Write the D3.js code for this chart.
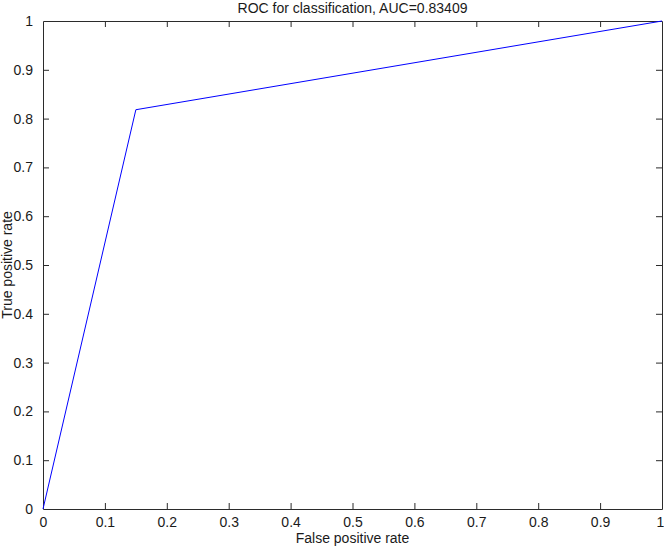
<!DOCTYPE html>
<html>
<head>
  <meta charset="utf-8">
  <script src="https://cdn.jsdelivr.net/npm/d3@7"></script>
  <style>
    body { margin: 0; background: #fff; }
    text { font-family: "Liberation Sans", Arial, sans-serif; fill: #1a1a1a; }
  </style>
</head>
<body>
  <svg id="chart" width="664" height="547"></svg>
  <script>
    // ROC curve points
    var fpr = [0, 0.15, 1];
    var tpr = [0, 0.81818, 1];
    var tickVals = [0, 0.1, 0.2, 0.3, 0.4, 0.5, 0.6, 0.7, 0.8, 0.9, 1];
    var tickLabels = ['0', '0.1', '0.2', '0.3', '0.4', '0.5', '0.6', '0.7', '0.8', '0.9', '1'];
    var title = 'ROC for classification, AUC=0.83409';

    var svg = d3.select('#chart');
    // note: "top" is taken by window.top, so use other names
    var boxL = 43, boxR = 662, boxT = 21, boxB = 509;
    var fs = '14px';

    var x = d3.scaleLinear().domain([0, 1]).range([boxL, boxR]);
    var y = d3.scaleLinear().domain([0, 1]).range([boxB, boxT]);
    var fmt = function (d, i) { return tickLabels[i]; };
    var axisCol = '#2b2b2b';

    // box with inward ticks on all four sides
    var gb = svg.append('g').attr('transform', 'translate(0,' + boxB + ')')
      .call(d3.axisBottom(x).tickValues(tickVals).tickFormat(fmt).tickSizeInner(-6).tickSizeOuter(0).tickPadding(8));
    var gt = svg.append('g').attr('transform', 'translate(0,' + boxT + ')')
      .call(d3.axisTop(x).tickValues(tickVals).tickFormat('').tickSizeInner(-6).tickSizeOuter(0));
    var gl = svg.append('g').attr('transform', 'translate(' + boxL + ',0)')
      .call(d3.axisLeft(y).tickValues(tickVals).tickFormat(fmt).tickSizeInner(-6).tickSizeOuter(0).tickPadding(10));
    var gr = svg.append('g').attr('transform', 'translate(' + boxR + ',0)')
      .call(d3.axisRight(y).tickValues(tickVals).tickFormat('').tickSizeInner(-6).tickSizeOuter(0));

    [gb, gt, gl, gr].forEach(function (g) {
      g.selectAll('path').attr('stroke', axisCol).attr('stroke-width', 1);
      g.selectAll('line').attr('stroke', axisCol).attr('stroke-width', 1);
      g.selectAll('text').style('font-size', fs).attr('fill', '#1a1a1a')
        .style('font-family', '"Liberation Sans", Arial, sans-serif');
      // edge ticks sit on the box corners
      g.selectAll('.tick line').filter(function (d) { return d === 0 || d === 1; }).remove();
    });
    // last x label would clip at the window edge
    gb.selectAll('.tick text').filter(function (d) { return d === 1; }).attr('dx', '-2');

    // curve
    var pts = fpr.map(function (d, i) { return [d, tpr[i]]; });
    svg.append('path')
      .datum(pts)
      .attr('fill', 'none')
      .attr('stroke', '#0000ff')
      .attr('stroke-width', 1)
      .attr('d', d3.line().x(function (d) { return x(d[0]); }).y(function (d) { return y(d[1]); }));

    // labels
    svg.append('text')
      .attr('x', (boxL + boxR) / 2).attr('y', 13)
      .attr('text-anchor', 'middle').style('font-size', fs)
      .text(title);
    svg.append('text')
      .attr('x', (boxL + boxR) / 2).attr('y', 543)
      .attr('text-anchor', 'middle').style('font-size', fs)
      .text('False positive rate');
    svg.append('text')
      .attr('transform', 'translate(12,' + ((boxT + boxB) / 2) + ') rotate(-90)')
      .attr('text-anchor', 'middle').style('font-size', fs)
      .text('True positive rate');
  </script>
</body>
</html>
